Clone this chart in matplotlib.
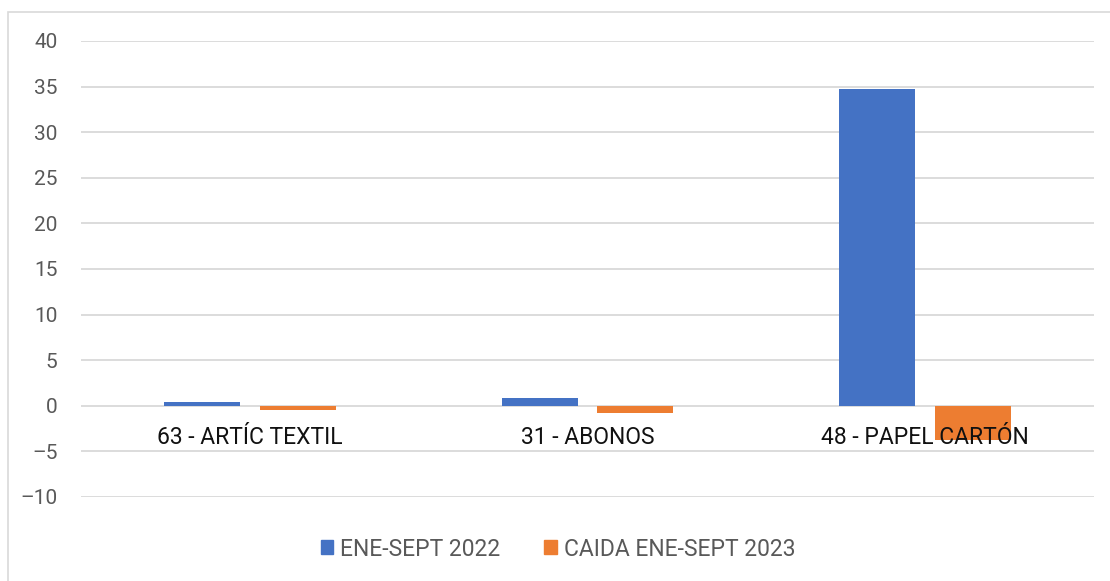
import matplotlib.pyplot as plt
import numpy as np
from matplotlib.patches import Rectangle

# Data
categories = ["63 - ARTÍC TEXTIL", "31 - ABONOS", "48 - PAPEL CARTÓN"]
ene_sept_2022 = [0.45, 0.85, 34.7]
caida_2023 = [-0.45, -0.75, -3.7]
series_names = ["ENE-SEPT 2022", "CAIDA ENE-SEPT 2023"]
yticks = [-10, -5, 0, 5, 10, 15, 20, 25, 30, 35, 40]

blue = "#4472C4"
orange = "#ED7D31"
grid_color = "#D9D9D9"

plt.rcParams['font.family'] = ['Roboto', 'DejaVu Sans']

fig = plt.figure(figsize=(11.1, 5.81), dpi=100)
ax = fig.add_axes([81 / 1110, 1 - 497 / 581, 1013 / 1110, 456 / 581])

x = np.arange(len(categories))
width = 0.225
offset = 0.142
ax.bar(x - offset, ene_sept_2022, width, color=blue, label=series_names[0], zorder=2)
ax.bar(x + offset, caida_2023, width, color=orange, label=series_names[1], zorder=2)

ax.set_xlim(-0.5, len(categories) - 0.5)
ax.set_ylim(-10, 40)
ax.set_yticks(yticks)
ax.set_yticklabels([str(t).replace('-', '\u2013') for t in yticks], color="#595959", fontsize=15)
ax.tick_params(axis='y', length=0, pad=17)
ax.set_xticks([])
ax.grid(axis='y', color=grid_color, linewidth=1.3, zorder=0)
for s in ax.spines.values():
    s.set_visible(False)

# category labels sit just under the zero line
for i, c in enumerate(categories):
    ax.text(i, -3.5, c, ha='center', va='center', fontsize=16.5, color='#111111', zorder=3)

handles = [Rectangle((0, 0), 1, 1, color=blue), Rectangle((0, 0), 1, 1, color=orange)]
fig.legend(handles, series_names, loc='center', bbox_to_anchor=(558 / 1110, 1 - 549 / 581),
           ncol=2, frameon=False, fontsize=16.5, labelcolor="#595959",
           handlelength=0.55, handleheight=0.55, handletextpad=0.3, columnspacing=1.9)

# outer chart border
fig.patches.append(Rectangle((8 / 1110, -0.01), 1.02, 1 - 12 / 581 + 0.01, transform=fig.transFigure,
                             fill=False, edgecolor=grid_color, linewidth=1.2))

fig.savefig("out.png", dpi=100)
